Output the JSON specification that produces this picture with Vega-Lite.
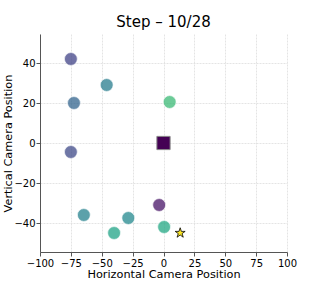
{
  "$schema": "https://vega.github.io/schema/vega-lite/v6.json",
  "width": 247,
  "height": 218,
  "autosize": "none",
  "padding": {"left": 40, "top": 34, "right": 32, "bottom": 32},
  "background": "white",
  "config": {
    "font": "DejaVu Sans",
    "view": {"stroke": null},
    "axis": {
      "gridColor": "#dddddd",
      "gridWidth": 0.8,
      "gridDash": [2, 1],
      "domainColor": "#555555",
      "tickColor": "#555555",
      "labelColor": "#000000",
      "titleColor": "#000000",
      "labelFontSize": 10,
      "titleFontSize": 11.3,
      "titleFontWeight": "normal",
      "labelFont": "DejaVu Sans",
      "titleFont": "DejaVu Sans",
      "labelOverlap": false,
      "labelFlush": false
    }
  },
  "title": {
    "text": "Step – 10/28",
    "fontSize": 15,
    "fontWeight": "normal",
    "font": "DejaVu Sans",
    "anchor": "middle",
    "offset": 4,
    "color": "#000000"
  },
  "datasets": {
    "cams": [
      {"x": -75, "y": 42, "t": 0.2},
      {"x": -46, "y": 29, "t": 0.42},
      {"x": -72.5, "y": 20, "t": 0.32},
      {"x": 5, "y": 20.5, "t": 0.68},
      {"x": -75, "y": -4.5, "t": 0.22},
      {"x": -64.5, "y": -36, "t": 0.44},
      {"x": -28.5, "y": -37.5, "t": 0.47},
      {"x": -40, "y": -45, "t": 0.58},
      {"x": -3.5, "y": -31, "t": 0.05},
      {"x": 0.5, "y": -42, "t": 0.6}
    ],
    "origin": [{"x": 0, "y": 0}],
    "target": [{"x": 13.5, "y": -45}]
  },
  "encoding": {
    "x": {
      "field": "x", "type": "quantitative",
      "scale": {"domain": [-100, 100], "nice": false},
      "axis": {"values": [-100, -75, -50, -25, 0, 25, 50, 75, 100], "title": "Horizontal Camera Position", "titlePadding": 0, "tickSize": 4, "labelPadding": 2, "labelOverlap": false, "labelFlush": false}
    },
    "y": {
      "field": "y", "type": "quantitative",
      "scale": {"domain": [-54.5, 54.5], "nice": false},
      "axis": {"values": [-40, -20, 0, 20, 40], "title": "Vertical Camera Position", "titlePadding": 0, "tickSize": 4, "labelPadding": 1, "labelOverlap": false, "labelFlush": false}
    }
  },
  "layer": [
    {
      "data": {"name": "cams"},
      "mark": {"type": "circle", "size": 165, "opacity": 0.75, "stroke": "#ffffff", "strokeWidth": 1, "strokeOpacity": 0.6},
      "encoding": {
        "color": {"field": "t", "type": "quantitative", "scale": {"scheme": "viridis", "domain": [0, 1]}, "legend": null}
      }
    },
    {
      "data": {"name": "origin"},
      "mark": {"type": "square", "size": 175, "color": "#440154", "opacity": 1, "stroke": "#888888", "strokeWidth": 1}
    },
    {
      "data": {"name": "target"},
      "mark": {"type": "point", "shape": "M0,-1L0.2245,-0.309L0.951,-0.309L0.3633,0.118L0.5878,0.809L0,0.382L-0.5878,0.809L-0.3633,0.118L-0.951,-0.309L-0.2245,-0.309Z", "size": 110, "filled": true, "fill": "#fde725", "stroke": "#000000", "strokeWidth": 0.8, "opacity": 1}
    }
  ]
}
